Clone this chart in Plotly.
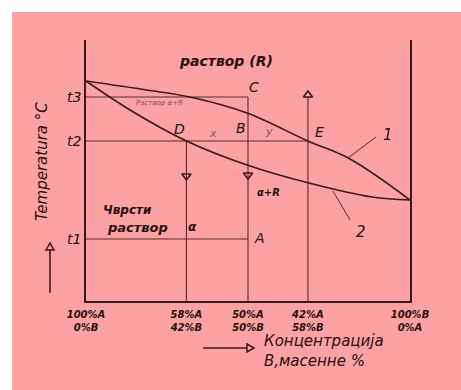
import plotly.graph_objects as go

# ---------------- data ----------------
comp_pos = [0, 31, 50, 68.5, 100]          # concentration tick positions on the axis
comp_labels = ["100%A<br>0%B", "58%A<br>42%B", "50%A<br>50%B", "42%A<br>58%B", "100%B<br>0%A"]
temp_vals = [62, 160, 204]                  # t1, t2, t3
temp_labels = ["t1", "t2", "t3"]

liq_x = [0, 18.8, 32.1, 49.7, 68.5, 81.5, 100]        # curve 1 (liquidus)
liq_y = [220, 211, 204, 188, 160, 142, 101]
sol_x = [0, 13.6, 31, 49.7, 68.8, 88.3, 100]         # curve 2 (solidus)
sol_y = [220, 191, 160, 136, 118, 104, 101]

x_D, x_B, x_E = 31, 50, 68.5
t1, t2, t3 = temp_vals

LINE = "#3c1818"
THIN = "#5a2828"
TXT = "#2a0e0e"
LIGHT = "#8a5050"
PINK = "#FCA2A2"

fig = go.Figure()

def seg(xs, ys, color=THIN, width=1.1):
    fig.add_trace(go.Scatter(x=xs, y=ys, mode="lines",
                             line=dict(color=color, width=width),
                             hoverinfo="skip", showlegend=False))

# construction lines
seg([0, x_B], [t3, t3])            # t3 line to C
seg([x_B, x_B], [t3, 0])           # vertical C-B-A
seg([0, x_E], [t2, t2])            # t2 tie line D-B-E
seg([x_D, x_D], [t2, 0])           # vertical from D
seg([x_E, x_E], [0, 204])          # vertical through E
seg([0, x_B], [t1, t1])            # t1 line to A

# leader lines for labels 1 and 2
seg([80.9, 89.5], [143, 164], color=THIN, width=1)
seg([76.2, 81.5], [110, 81], color=THIN, width=1)

# curves
for cx, cy in ((liq_x, liq_y), (sol_x, sol_y)):
    fig.add_trace(go.Scatter(x=cx, y=cy, mode="lines",
                             line=dict(color=LINE, width=1.6, shape="spline", smoothing=1.0),
                             showlegend=False, hoverinfo="skip"))

# arrow heads (open triangles) inside the plot
fig.add_trace(go.Scatter(
    x=[x_D, x_B, x_E],
    y=[125, 126, 206],
    mode="markers", cliponaxis=False,
    marker=dict(symbol=["triangle-down-open", "triangle-down-open", "triangle-up-open"],
                size=8, color=LINE, line=dict(width=1.6, color=LINE)),
    showlegend=False, hoverinfo="skip"))

def px_x(p):
    return (p - 86) / 324.0

def px_y(p):
    return (301 - p) / 261.0

def tri(pts):
    d = "M " + " L ".join(f"{px_x(a):.4f},{px_y(b):.4f}" for a, b in pts) + " Z"
    return dict(type="path", xref="paper", yref="paper", path=d,
                line=dict(color=LINE, width=1.5), fillcolor="rgba(0,0,0,0)")

shapes = [
    dict(type="rect", xref="paper", yref="paper",
         x0=px_x(12), x1=px_x(470), y0=px_y(400), y1=px_y(12),
         fillcolor=PINK, line=dict(width=0), layer="below"),
    # side arrow (temperature)
    dict(type="line", xref="paper", yref="paper",
         x0=px_x(50), x1=px_x(50), y0=px_y(293), y1=px_y(250),
         line=dict(color=LINE, width=1.6)),
    tri([(46, 250), (50, 243), (54, 250)]),
    # bottom arrow (concentration)
    dict(type="line", xref="paper", yref="paper",
         x0=px_x(203), x1=px_x(247), y0=px_y(348), y1=px_y(348),
         line=dict(color=LINE, width=1.6)),
    tri([(247, 344), (254, 348), (247, 352)]),
]

def lab(x, y, text, size=12, color=TXT, weight="normal", xref="x", yref="y",
        angle=0, xanchor="center", align="center"):
    return dict(x=x, y=y, xref=xref, yref=yref, text=text, showarrow=False,
                textangle=angle, xanchor=xanchor, yanchor="middle", align=align,
                font=dict(family="DejaVu Sans", size=size, color=color,
                          style="italic", weight=weight))

annotations = [
    lab(43.2, 240, "раствор (R)", size=14, weight="bold"),
    lab(22.8, 198, "Раствор α+R", size=7, color=LIGHT),
    lab(51.9, 214, "C", size=14),
    lab(29.0, 172, "D", size=14),
    lab(39.2, 168, "x", size=11, color=LIGHT),
    lab(47.8, 173, "B", size=14),
    lab(56.5, 170, "y", size=11, color=LIGHT),
    lab(72.2, 169, "E", size=14),
    lab(56.2, 109, "α+R", size=10, weight="bold"),
    lab(12.7, 91, "Чврсти", size=12, weight="bold"),
    lab(16.0, 74, "раствор", size=13, weight="bold"),
    lab(33.0, 74, "α", size=12, weight="bold"),
    lab(53.7, 63, "A", size=14),
    lab(93.2, 166, "1", size=15),
    lab(84.9, 69, "2", size=15),
    lab(px_x(42), px_y(162), "Temperatura °C", size=15, xref="paper", yref="paper", angle=-90),
    lab(px_x(262), px_y(351), "Концентрација<br>B,масенне %", size=15,
        xref="paper", yref="paper", xanchor="left", align="left"),
]

fig.update_layout(
    width=461, height=390,
    margin=dict(l=86, r=51, t=40, b=89),
    paper_bgcolor="white", plot_bgcolor="rgba(0,0,0,0)",
    shapes=shapes, annotations=annotations,
    xaxis=dict(range=[0, 100], showgrid=False, zeroline=False, showline=True,
               linecolor=LINE, linewidth=1.8, mirror=False,
               tickvals=comp_pos, ticktext=comp_labels, ticks="", ticklabelstandoff=3,
               tickfont=dict(family="DejaVu Sans", size=10, color=TXT, style="italic", weight="bold")),
    yaxis=dict(range=[0, 261], showgrid=False, zeroline=False, showline=True,
               linecolor=LINE, linewidth=1.8, mirror=True,
               tickvals=temp_vals, ticktext=temp_labels, ticks="",
               tickfont=dict(family="DejaVu Sans", size=14, color=TXT, style="italic")),
)

fig.write_html("out.html")
